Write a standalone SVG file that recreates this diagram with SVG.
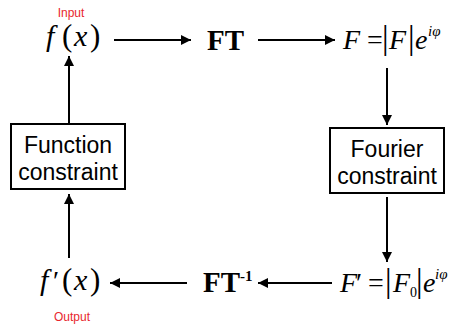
<svg xmlns="http://www.w3.org/2000/svg" width="451" height="326" viewBox="0 0 451 326">
<defs>
<marker id="ah" viewBox="0 0 10 10" refX="10" refY="5" markerWidth="10" markerHeight="10" markerUnits="userSpaceOnUse" orient="auto">
<path d="M0,0 L10,5 L0,10 z" fill="#000"/>
</marker>
<style>
.m{font-family:"Liberation Serif","Times New Roman",serif;font-size:28px;fill:#000}
.i{font-style:italic}
.b{font-weight:bold;font-size:29px}
.f{font-size:30px}
.p{font-size:31px}
.bar{font-size:33px}
.sup{font-size:15px}
.sub{font-size:14px}
.box{fill:#fff;stroke:#000;stroke-width:2}
.bt{font-family:"Liberation Sans",Arial,sans-serif;font-size:23px;fill:#000;text-anchor:middle}
.lab{font-family:"Liberation Sans",Arial,sans-serif;font-size:12px;fill:#e8262d;text-anchor:middle}
.c{stroke:#000;stroke-width:2;fill:none;marker-end:url(#ah)}
</style>
</defs>
<g id="connectors">
<line class="c" x1="114" y1="40" x2="191" y2="40"/>
<line class="c" x1="258" y1="40" x2="335" y2="40"/>
<line class="c" x1="387" y1="68" x2="387" y2="125"/>
<line class="c" x1="387" y1="197" x2="387" y2="262"/>
<line class="c" x1="332" y1="283" x2="258" y2="283"/>
<line class="c" x1="187" y1="283" x2="110" y2="283"/>
<line class="c" x1="69" y1="258" x2="69" y2="194"/>
<line class="c" x1="69" y1="124" x2="69" y2="56"/>
</g>
<g id="input">
<text class="lab" x="71" y="17">Input</text>
<text class="m i f" x="46" y="46">f</text>
<text class="m p" x="62" y="46">(</text>
<text class="m i f" x="74" y="46">x</text>
<text class="m p" x="90" y="46">)</text>
</g>
<g id="ft">
<text class="m b" x="207" y="50">FT</text>
</g>
<g id="spectrum">
<text class="m i" x="343" y="49">F</text>
<text class="m" x="367" y="49">=</text>
<text class="m bar" x="382" y="49">|</text>
<text class="m i" x="389" y="49">F</text>
<text class="m bar" x="408" y="49">|</text>
<text class="m i" x="415" y="49">e</text>
<text class="m i sup" x="428" y="36">iφ</text>
</g>
<g id="fourier-constraint">
<rect class="box" x="330" y="128" width="114" height="65"/>
<text class="bt" x="387" y="157">Fourier</text>
<text class="bt" x="387" y="184">constraint</text>
</g>
<g id="constrained-spectrum">
<text class="m i" x="340" y="292">F</text>
<text class="m" x="356" y="292">′</text>
<text class="m" x="368" y="292">=</text>
<text class="m bar" x="385" y="292">|</text>
<text class="m i" x="393" y="292">F</text>
<text class="m sub" x="410" y="297">0</text>
<text class="m bar" x="416" y="292">|</text>
<text class="m i" x="423" y="292">e</text>
<text class="m i sup" x="435" y="279">iφ</text>
</g>
<g id="ift">
<text class="m b" x="203" y="292">FT<tspan class="sup" dy="-11">-1</tspan></text>
</g>
<g id="output">
<text class="m i f" x="40" y="290">f</text>
<text class="m" x="53" y="290">′</text>
<text class="m p" x="62" y="290">(</text>
<text class="m i f" x="74" y="290">x</text>
<text class="m p" x="90" y="290">)</text>
<text class="lab" x="72" y="321">Output</text>
</g>
<g id="function-constraint">
<rect class="box" x="11" y="124" width="114" height="65"/>
<text class="bt" x="68" y="153">Function</text>
<text class="bt" x="68" y="180">constraint</text>
</g>
</svg>
